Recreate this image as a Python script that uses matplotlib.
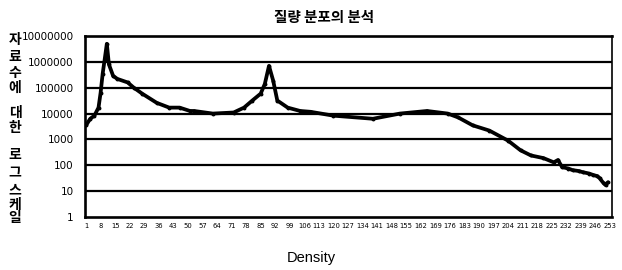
import matplotlib
matplotlib.use("Agg")
import matplotlib.pyplot as plt
import numpy as np

# values (density -> number of samples)
density = [1, 3, 5, 7, 8, 9, 10, 11, 12, 14, 16, 21, 24, 28, 35, 41, 46, 51, 53,
           62, 72, 77, 81, 85, 87, 89, 91, 93, 98, 104, 109, 120, 139, 152, 165,
           175, 180, 187, 195, 204, 210, 215, 221, 226, 228, 230, 233, 235, 238,
           240, 243, 245, 247, 248, 250, 251, 252]
counts = [3500, 6300, 8300, 17000, 63000, 350000, 1300000, 5000000, 800000,
          290000, 220000, 160000, 100000, 59000, 26000, 17000, 17000, 12600, 12600,
          10000, 11000, 17000, 32000, 59000, 140000, 700000, 190000, 32000, 17000,
          12600, 11700, 8300, 6300, 10000, 12600, 10000, 7100, 3500, 2200, 900,
          380, 240, 190, 130, 160, 85, 75, 65, 60, 54, 48, 42, 38, 32, 20, 17, 22]

xtick_vals = list(range(1, 254, 7))
ytick_vals = [1, 10, 100, 1000, 10000, 100000, 1000000, 10000000]

title = "질량 분포의 분석"
xlabel = "Density"
ylabel_chars = ["자", "료", "수", "에", "대", "한", "로", "그", "스", "케", "일"]
ylabel_ypix = [40, 57, 73, 88, 113, 128, 155, 172, 190, 205, 218]

narrow = ["Liberation Sans Narrow", "DejaVu Sans"]
kr = ["Noto Sans CJK KR", "DejaVu Sans"]

W, H = 622, 270
fig = plt.figure(figsize=(W / 100, H / 100), dpi=100)
ax = fig.add_axes([85 / W, 1 - 217 / H, (612 - 85) / W, (217 - 36) / H])

ax.plot(density, counts, color="black", lw=2.7, marker="o", ms=1.8,
        solid_joinstyle="round", solid_capstyle="round")

ax.set_yscale("log")
ax.set_ylim(1, 1e7)
ax.set_xlim(0.5, 254)
ax.set_yticks(ytick_vals)
ax.set_yticklabels([str(v) for v in ytick_vals], fontsize=7.5, family=narrow)
ax.yaxis.set_minor_locator(matplotlib.ticker.NullLocator())
ax.set_xticks(xtick_vals)
ax.set_xticklabels([str(v) for v in xtick_vals], fontsize=4.9, family=narrow)
ax.tick_params(length=0, pad=4)
ax.tick_params(axis="y", pad=8)

for v in ytick_vals[1:-1]:
    ax.axhline(v, color="black", lw=1.6, zorder=1)
for s in ax.spines.values():
    s.set_linewidth(1.9)
ax.spines["right"].set_linewidth(1.2)

fig.text(324 / W, 1 - 17 / H, title, ha="center", va="center", fontsize=10.5,
         family=kr, fontweight="bold")
fig.text(311 / W, 1 - 258 / H, xlabel, ha="center", va="center", fontsize=10.5,
         family=["Liberation Sans", "DejaVu Sans"])
for ch, yp in zip(ylabel_chars, ylabel_ypix):
    fig.text(15 / W, 1 - yp / H, ch, ha="center", va="center", fontsize=10,
             family=kr, fontweight="bold")

fig.savefig("out.png", dpi=100)
